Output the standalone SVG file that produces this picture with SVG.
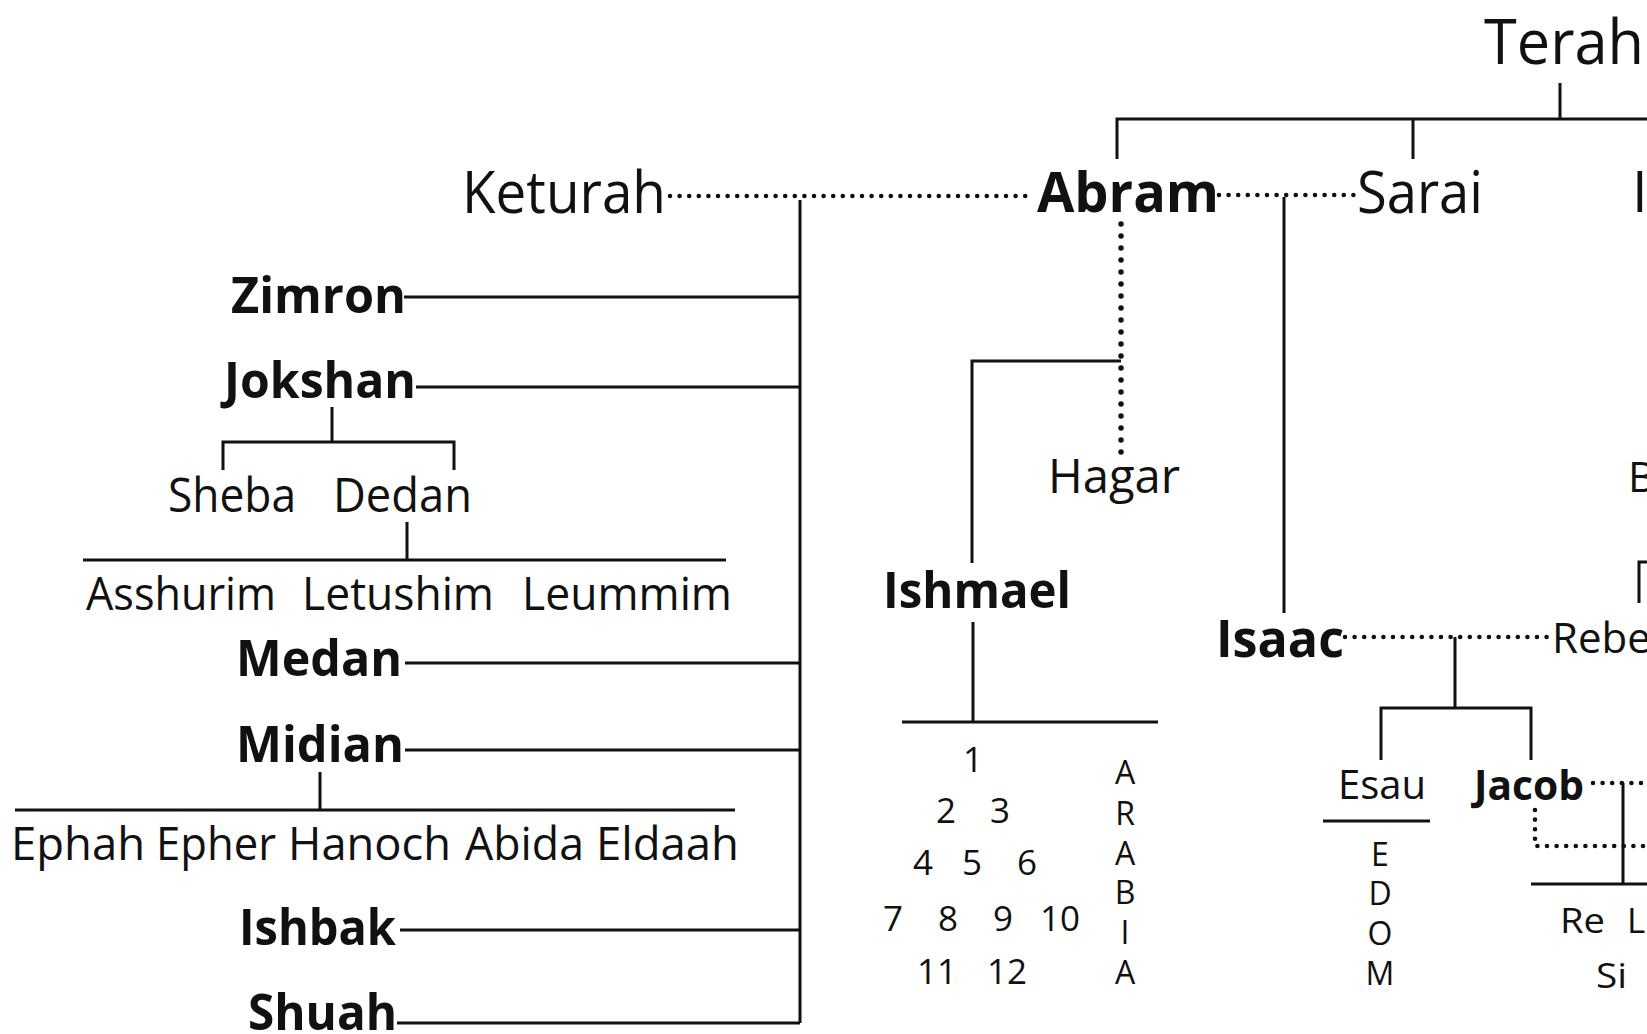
<svg xmlns="http://www.w3.org/2000/svg" width="1647" height="1034" viewBox="0 0 1647 1034">
<style>
text{font-family:"Open Sans","Noto Sans","DejaVu Sans",sans-serif;fill:#111}
.b{font-weight:700}
.ln{fill:none;stroke:#111;stroke-width:3}
.dt{fill:none;stroke:#111;stroke-width:4.6;stroke-linecap:round;stroke-dasharray:0 9.6}
.dv{fill:none;stroke:#111;stroke-width:5.5;stroke-linecap:round;stroke-dasharray:0 12}
.c{text-anchor:middle}
</style>
<rect width="1647" height="1034" fill="#fff"/>
<g id="connectors">
<path class="ln" d="M1560 83V119M1117 159V119H1647M1413 119V159"/>
<path class="ln" d="M800 200V1023M404 297H800M416 387H800M405 663H800M405 750H800M400 930H800M397 1023H800"/>
<path class="ln" d="M332 407V442M223 470V442H454V470M407 522V560M83 560H726"/>
<path class="ln" d="M320 772V810M15 810H735"/>
<path class="ln" d="M1121 361H972V563M973 622V722M902 722H1158"/>
<path class="ln" d="M1284 197V613M1455 637V708M1381 760V708H1531V760M1323 821H1430"/>
<path class="ln" d="M1623 783V884M1531 884H1647M1647 562H1639V603"/>
<path class="dt" d="M670 196H1030M1219 195H1355M1345 637H1547M1593 783H1647M1535 810V846H1647"/>
<path class="dv" d="M1121 224V453"/>
</g>
<g id="terah"><text x="1484" y="64" font-size="63" textLength="160" lengthAdjust="spacingAndGlyphs">Terah</text></g>
<g id="keturah"><text x="462" y="213" font-size="58" textLength="204" lengthAdjust="spacingAndGlyphs">Keturah</text></g>
<g id="abram"><text class="b" x="1037" y="212" font-size="56" textLength="182" lengthAdjust="spacingAndGlyphs">Abram</text></g>
<g id="sarai"><text x="1357" y="213" font-size="58" textLength="126" lengthAdjust="spacingAndGlyphs">Sarai</text></g>
<g id="edge-top"><text x="1632" y="212" font-size="56">I</text></g>
<g id="zimron"><text class="b" x="231" y="313" font-size="51" textLength="175" lengthAdjust="spacingAndGlyphs">Zimron</text></g>
<g id="jokshan"><text class="b" x="224" y="398" font-size="51" textLength="192" lengthAdjust="spacingAndGlyphs">Jokshan</text></g>
<g id="sheba"><text x="168" y="512" font-size="47" textLength="128" lengthAdjust="spacingAndGlyphs">Sheba</text></g>
<g id="dedan"><text x="333" y="512" font-size="47" textLength="139" lengthAdjust="spacingAndGlyphs">Dedan</text></g>
<g id="asshurim"><text x="86" y="610" font-size="46" textLength="190" lengthAdjust="spacingAndGlyphs">Asshurim</text></g>
<g id="letushim"><text x="302" y="610" font-size="46" textLength="192" lengthAdjust="spacingAndGlyphs">Letushim</text></g>
<g id="leummim"><text x="522" y="610" font-size="46" textLength="210" lengthAdjust="spacingAndGlyphs">Leummim</text></g>
<g id="medan"><text class="b" x="236" y="676" font-size="51" textLength="166" lengthAdjust="spacingAndGlyphs">Medan</text></g>
<g id="midian"><text class="b" x="236" y="762" font-size="51" textLength="168" lengthAdjust="spacingAndGlyphs">Midian</text></g>
<g id="midian-sons">
<text x="11" y="860" font-size="45" textLength="134" lengthAdjust="spacingAndGlyphs">Ephah</text>
<text x="156" y="860" font-size="45" textLength="120" lengthAdjust="spacingAndGlyphs">Epher</text>
<text x="288" y="860" font-size="45" textLength="163" lengthAdjust="spacingAndGlyphs">Hanoch</text>
<text x="465" y="860" font-size="45" textLength="119" lengthAdjust="spacingAndGlyphs">Abida</text>
<text x="596" y="860" font-size="45" textLength="143" lengthAdjust="spacingAndGlyphs">Eldaah</text>
</g>
<g id="ishbak"><text class="b" x="239" y="945" font-size="51" textLength="157" lengthAdjust="spacingAndGlyphs">Ishbak</text></g>
<g id="shuah"><text class="b" x="248" y="1030" font-size="51" textLength="149" lengthAdjust="spacingAndGlyphs">Shuah</text></g>
<g id="hagar"><text x="1048" y="493" font-size="48" textLength="132" lengthAdjust="spacingAndGlyphs">Hagar</text></g>
<g id="edge-mid"><text x="1628" y="492" font-size="42">B</text></g>
<g id="ishmael"><text class="b" x="883" y="608" font-size="51" textLength="188" lengthAdjust="spacingAndGlyphs">Ishmael</text></g>
<g id="ishmael-sons">
<text class="c" x="973" y="772" font-size="35">1</text>
<text class="c" x="946" y="823" font-size="35">2</text>
<text class="c" x="1000" y="823" font-size="35">3</text>
<text class="c" x="923" y="875" font-size="35">4</text>
<text class="c" x="972" y="875" font-size="35">5</text>
<text class="c" x="1027" y="875" font-size="35">6</text>
<text class="c" x="893" y="931" font-size="35">7</text>
<text class="c" x="948" y="931" font-size="35">8</text>
<text class="c" x="1003" y="931" font-size="35">9</text>
<text class="c" x="1060" y="931" font-size="35">10</text>
<text class="c" x="937" y="984" font-size="35">11</text>
<text class="c" x="1007" y="984" font-size="35">12</text>
</g>
<g id="arabia">
<text class="c" x="1125" y="784" font-size="32">A</text>
<text class="c" x="1125" y="825" font-size="32">R</text>
<text class="c" x="1125" y="865" font-size="32">A</text>
<text class="c" x="1125" y="904" font-size="32">B</text>
<text class="c" x="1125" y="944" font-size="32">I</text>
<text class="c" x="1125" y="984" font-size="32">A</text>
</g>
<g id="isaac"><text class="b" x="1216" y="657" font-size="52" textLength="128" lengthAdjust="spacingAndGlyphs">Isaac</text></g>
<g id="rebekah"><text x="1552" y="653" font-size="42">Rebe</text></g>
<g id="esau"><text x="1338" y="799" font-size="41" textLength="88" lengthAdjust="spacingAndGlyphs">Esau</text></g>
<g id="edom">
<text class="c" x="1380" y="866" font-size="32">E</text>
<text class="c" x="1380" y="905" font-size="32">D</text>
<text class="c" x="1380" y="945" font-size="32">O</text>
<text class="c" x="1380" y="985" font-size="32">M</text>
</g>
<g id="jacob"><text class="b" x="1474" y="800" font-size="42" textLength="110" lengthAdjust="spacingAndGlyphs">Jacob</text></g>
<g id="jacob-sons">
<text x="1560" y="933" font-size="35" textLength="45" lengthAdjust="spacingAndGlyphs">Re</text>
<text x="1627" y="933" font-size="35">L</text>
<text x="1596" y="988" font-size="35" textLength="31" lengthAdjust="spacingAndGlyphs">Si</text>
</g>
</svg>
